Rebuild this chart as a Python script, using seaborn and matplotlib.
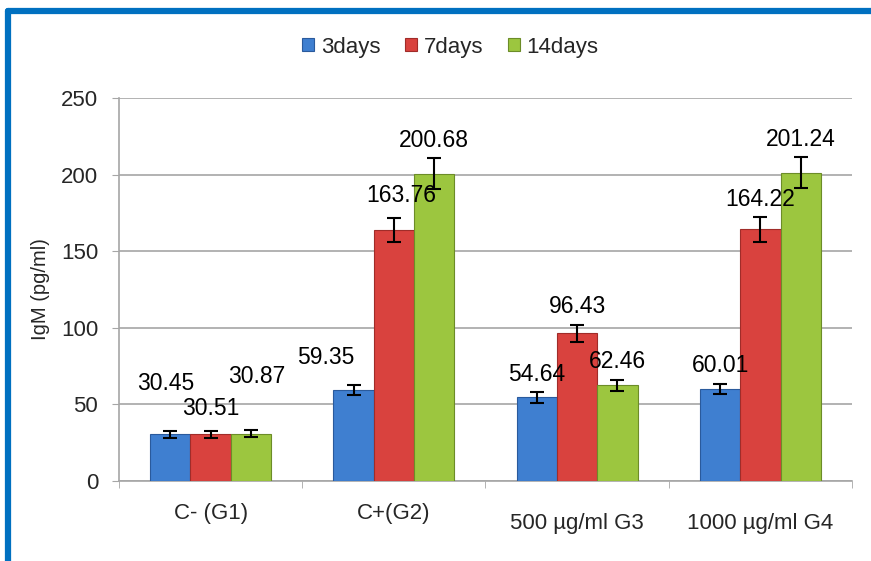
import pandas as pd
import seaborn as sns
import matplotlib.pyplot as plt
from matplotlib.lines import Line2D
import matplotlib.transforms as mtransforms

# values
groups = ["C- (G1)", "C+(G2)", "500 µg/ml G3", "1000 µg/ml G4"]
series = ["3days", "7days", "14days"]
igm_3days = [30.45, 59.35, 54.64, 60.01]
igm_7days = [30.51, 163.76, 96.43, 164.22]
igm_14days = [30.87, 200.68, 62.46, 201.24]
err_3days = [2.2, 3.2, 3.4, 3.3]
err_7days = [2.2, 8.0, 5.4, 8.0]
err_14days = [2.2, 10.0, 3.5, 10.0]

colors = ["#3f7fd0", "#d9423e", "#9cc63f"]
edges = ["#2a5a9c", "#a02c29", "#6c8c28"]

rows = []
for s, vals, errs in zip(series, [igm_3days, igm_7days, igm_14days],
                         [err_3days, err_7days, err_14days]):
    for g, v, e in zip(groups, vals, errs):
        rows.append({"group": g, "series": s, "IgM": v, "err": e})
df = pd.DataFrame(rows)

sns.set_style("white")
plt.rcParams["font.family"] = ["Liberation Sans", "DejaVu Sans"]

fig = plt.figure(figsize=(8.71, 5.61), dpi=100)
ax = fig.add_axes([0.1366, 0.1426, 0.9782 - 0.1366, 0.8253 - 0.1426])

sns.barplot(data=df, x="group", y="IgM", hue="series", order=groups,
            hue_order=series, palette=colors, width=0.66, errorbar=None,
            saturation=1, ax=ax, legend=True, zorder=3)

bar_conts = list(ax.containers)

# label nudges (points) for the crowded labels, as in the reference
nudge = {(0, 0): (-3, 34), (1, 0): (0, 16), (2, 0): (4, 39),
         (0, 1): (-20, 20), (1, 1): (5, 16)}

for si, cont in enumerate(bar_conts):
    for gi, bar in enumerate(cont.patches):
        bar.set_edgecolor(edges[si])
        bar.set_linewidth(0.8)
        sub = df[(df.series == series[si]) & (df.group == groups[gi])].iloc[0]
        xc = bar.get_x() + bar.get_width() / 2
        ax.errorbar(xc, sub.IgM, yerr=sub.err, fmt="none", ecolor="black",
                    elinewidth=1.5, capsize=5, capthick=1.5, zorder=4)
        dx, dy = nudge.get((si, gi), (0, 13))
        ax.annotate(f"{sub.IgM:.2f}", (xc, sub.IgM + sub.err),
                    xytext=(dx, dy), textcoords="offset points",
                    ha="center", va="center", fontsize=16.5, color="black",
                    zorder=5)

ax.set_ylim(0, 250)
ax.set_xlim(-0.5, 3.5)
ax.set_yticks([0, 50, 100, 150, 200, 250])
ax.yaxis.grid(True, color="#a6a6a6", linewidth=1.2, zorder=0)
ax.set_axisbelow(True)
ax.set_xlabel("")
ax.set_ylabel("IgM (pg/ml)", fontsize=14.5, labelpad=8)
ax.tick_params(axis="y", labelsize=16, length=5, color="#a6a6a6",
               left=True, pad=10)
ax.tick_params(axis="x", labelsize=16, length=0, pad=16)

# category boundary ticks
ax.set_xticks([-0.5, 0.5, 1.5, 2.5, 3.5], minor=True)
ax.tick_params(axis="x", which="minor", length=5, color="#a6a6a6", bottom=True)

for lab in ax.get_xticklabels()[2:]:
    lab.set_transform(lab.get_transform() +
                      mtransforms.ScaledTranslation(0, -7 / 72, fig.dpi_scale_trans))

for side in ["top", "right"]:
    ax.spines[side].set_visible(False)
for side in ["left", "bottom"]:
    ax.spines[side].set_color("#a6a6a6")
    ax.spines[side].set_linewidth(1.2)

ax.legend_.remove()
fig.legend(handles=bar_conts, labels=series, loc="center",
           bbox_to_anchor=(0.517, 0.916), ncol=3, frameon=False,
           fontsize=16, handlelength=0.55, handleheight=0.55,
           handletextpad=0.3, columnspacing=1.1)

# blue frame along top and left edges
fig.add_artist(Line2D([0.009, 1.0], [0.981, 0.981], color="#0070c0",
                      linewidth=4.5, transform=fig.transFigure))
fig.add_artist(Line2D([0.009, 0.009], [0.0, 0.981], color="#0070c0",
                      linewidth=4.5, transform=fig.transFigure))

fig.savefig("out.png", dpi=100)
